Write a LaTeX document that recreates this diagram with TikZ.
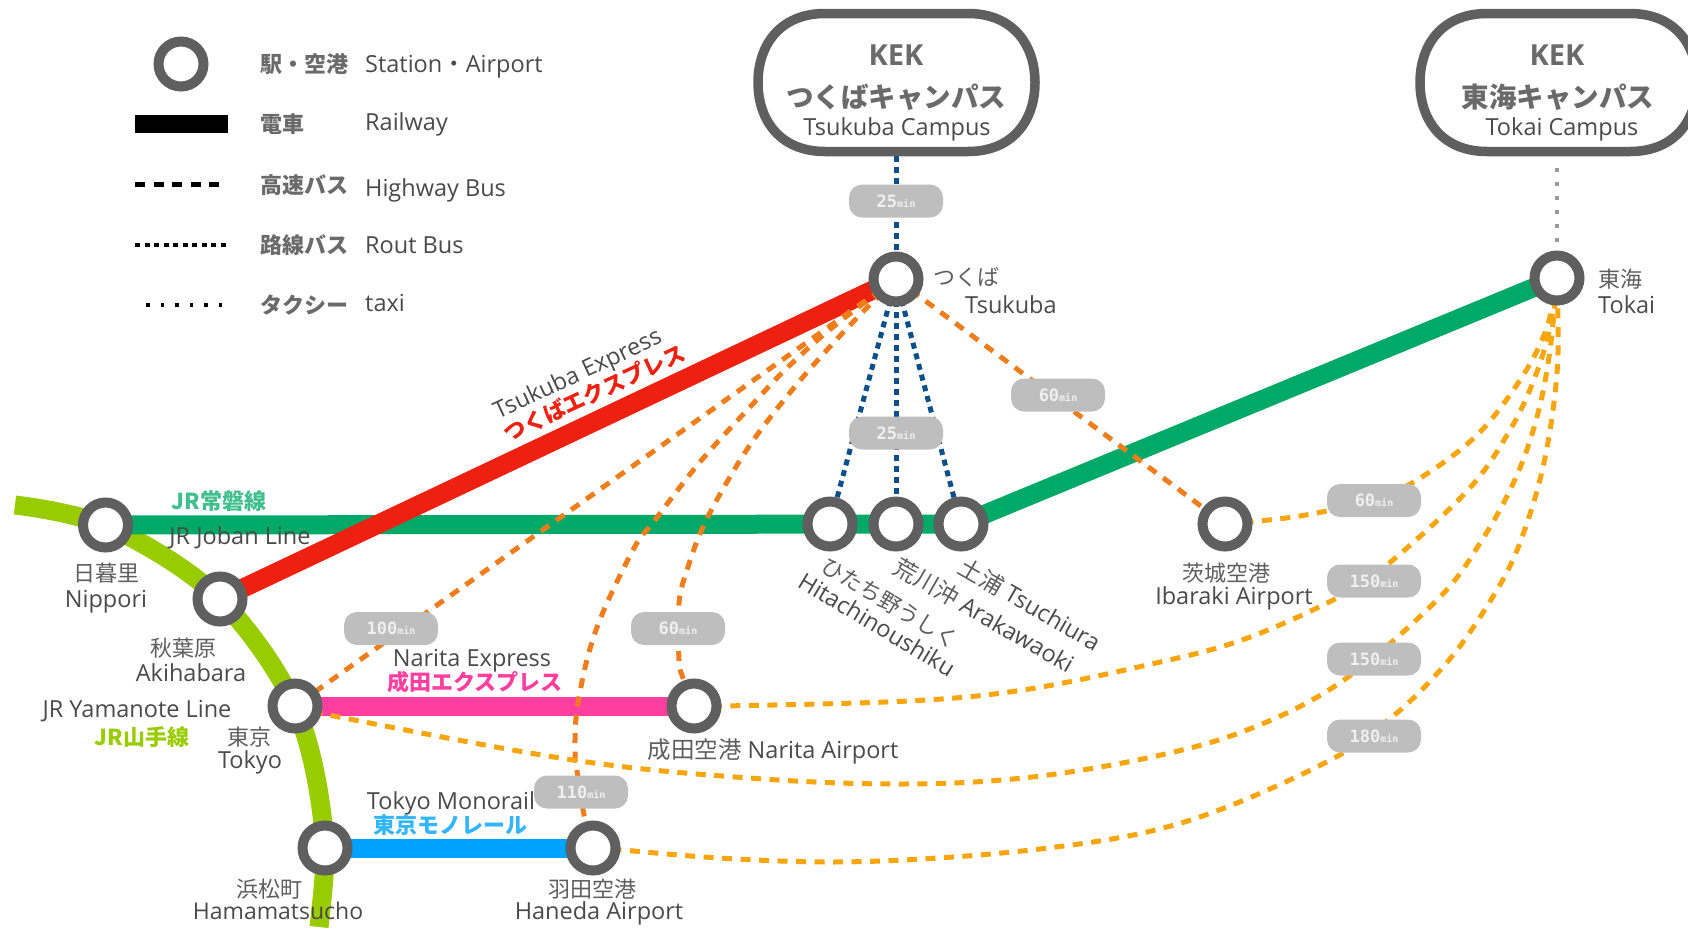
\documentclass[tikz,border=0pt]{standalone}
\usepackage{fontspec}
\setmainfont{Open Sans}
\newfontfamily\jp{Noto Sans CJK JP}
\newfontfamily\mn{DejaVu Sans Mono}
\usetikzlibrary{backgrounds}
\definecolor{ringgray}{HTML}{5F5F5F}
\definecolor{textgray}{HTML}{4A4A4A}
\definecolor{jagray}{HTML}{5E5E5E}
\definecolor{boldgray}{HTML}{6A6A6A}
\definecolor{pillgray}{HTML}{BEBEBE}
\definecolor{joban}{HTML}{00A968}
\definecolor{yama}{HTML}{99CC00}
\definecolor{tx}{HTML}{EE2010}
\definecolor{nex}{HTML}{FF3FA0}
\definecolor{mono}{HTML}{00A2FF}
\definecolor{routeblue}{HTML}{0B4F8A}
\definecolor{orangeA}{HTML}{EE7D1C}
\definecolor{orangeB}{HTML}{F8A50E}
\definecolor{taxigray}{HTML}{9A9A9A}
\newcommand{\pilltxt}[1]{{\mn\bfseries\fontsize{17}{17}\selectfont #1\fontsize{10}{10}\selectfont min}}
\newcommand{\sz}[1]{\fontsize{#1}{#1}\selectfont}
\tikzset{
  x=1pt,y=-1pt,
  station/.style={circle,draw=ringgray,fill=white,line width=10pt,minimum size=45pt,inner sep=0pt},
  pill/.style={rectangle,rounded corners=13pt,fill=pillgray,minimum width=94pt,minimum height=33pt,inner sep=0pt,text=white!94!black},
  en/.style={inner sep=0pt,text=textgray,font=\sz{23.5},yshift=-2pt},
  ja/.style={inner sep=0pt,text=jagray,font=\jp\sz{22}},
  jb/.style={inner sep=0pt,text=boldgray,font=\jp\bfseries\sz{22}},
  rail/.style={line width=19pt},
  bluebus/.style={draw=routeblue,line width=5pt,dash pattern=on 6pt off 5pt},
  orbus/.style={draw=orangeA,line width=5pt,dash pattern=on 10pt off 8.5pt},
  yebus/.style={draw=orangeB,line width=5pt,dash pattern=on 10pt off 8.5pt},
  campus/.style={draw=ringgray,line width=9.5pt,fill=white},
}
\begin{document}
\begin{tikzpicture}
\path[use as bounding box] (0,0) rectangle (1688,927);
\clip (0,0) rectangle (1688,927);
% stations
\node[station] (tsukuba) at (896,279) {};
\node[station] (tokai) at (1557,278) {};
\node[station] (hitachi) at (830,524) {};
\node[station] (arakawa) at (896,524) {};
\node[station] (tsuchiura) at (961,524) {};
\node[station] (ibaraki) at (1225,524) {};
\node[station] (nippori) at (105.5,525) {};
\node[station] (akiba) at (220,599) {};
\node[station] (tokyo) at (295,706) {};
\node[station] (narita) at (694,706) {};
\node[station] (hama) at (325,848) {};
\node[station] (haneda) at (593,848) {};
\coordinate (yamaS) at (15,505);
\coordinate (yamaE) at (319,927);
\coordinate (tsuTop) at (896,156);
\coordinate (tokTop) at (1557,168);
\coordinate (tokBot) at (1557,245);
% campuses
\draw[campus] (825,13.5) -- (968,13.5) .. controls (1013,13.5) and (1035,45) .. (1035,82.5) .. controls (1035,120) and (1013,151.5) .. (968,151.5) -- (825,151.5) .. controls (780,151.5) and (758,120) .. (758,82.5) .. controls (758,45) and (780,13.5) .. (825,13.5) -- cycle;
\draw[campus] (1487,13.5) -- (1630,13.5) .. controls (1675,13.5) and (1697,45) .. (1697,82.5) .. controls (1697,120) and (1675,151.5) .. (1630,151.5) -- (1487,151.5) .. controls (1442,151.5) and (1420,120) .. (1420,82.5) .. controls (1420,45) and (1442,13.5) .. (1487,13.5) -- cycle;
\node[inner sep=0pt,text=boldgray,font=\bfseries\sz{29}] (kek1) at (896,55) {KEK};
\node[jb,font=\jp\bfseries\sz{27.5}] (kekj1) at (896,97) {つくばキャンパス};
\node[en] (keke1) at (897,127) {Tsukuba Campus};
\node[inner sep=0pt,text=boldgray,font=\bfseries\sz{29}] (kek2) at (1557,55) {KEK};
\node[jb,font=\jp\bfseries\sz{27.5}] (kekj2) at (1558,97) {東海キャンパス};
\node[en] (keke2) at (1562,127) {Tokai Campus};
% lines
\begin{scope}[on background layer]
\draw[yama,rail] (yamaS) .. controls (40,508) and (75,514) .. (nippori.center) .. controls (145,543) and (190,570) .. (akiba.center) .. controls (250,630) and (278,670) .. (tokyo.center) .. controls (312,745) and (322,800) .. (hama.center) .. controls (325,875) and (322,900) .. (yamaE);
\draw[joban,rail] (nippori.center) -- (tsuchiura.center) -- (tokai.center);
\draw[tx,rail] (akiba.center) -- (tsukuba.center);
\draw[nex,rail] (tokyo.center) -- (narita.center);
\draw[mono,rail] (hama.center) -- (haneda.center);
\draw[bluebus] (tsuTop) -- (tsukuba.center);
\draw[bluebus] (tsukuba.center) -- (hitachi.center);
\draw[bluebus] (tsukuba.center) -- (arakawa.center);
\draw[bluebus] (tsukuba.center) -- (tsuchiura.center);
\draw[draw=taxigray,line width=3.5pt,dash pattern=on 4pt off 10pt] (tokTop) -- (tokBot);
\draw[orbus] (tsukuba.center) -- (ibaraki.center);
\draw[orbus] (tsukuba.center) -- (tokyo.center);
\draw[orbus] plot[smooth,tension=.6] coordinates {(tsukuba.center) (833,327) (787,368) (750,407) (700,462) (655,520) (633,550) (596,630) (578,703) (575,753) (578,777) (585,820) (haneda.center)};
\draw[orbus] plot[smooth,tension=.6] coordinates {(tsukuba.center) (853,322) (803,377) (757,435) (727,482) (703,527) (688,567) (679,603) (679,660) (683,678) (narita.center)};
\draw[yebus] plot[smooth,tension=.6] coordinates {(ibaraki.center) (1300,516) (1370,500) (1417,480) (1477,435) (1522,377) (1547,327) (tokai.center)};
\draw[yebus] plot[smooth,tension=.6] coordinates {(narita.center) (724,706) (908,701) (1023,690) (1147,665) (1242,640) (1337,598) (1387,565) (1468,490) (1510,430) (1535,377) (1550,327) (tokai.center)};
\draw[yebus] plot[smooth,tension=.6] coordinates {(tokyo.center) (339,717) (573,760) (749,778) (898,784) (1023,778) (1147,758) (1247,730) (1341,682) (1437,600) (1482,540) (1517,475) (1538,413) (1550,350) (tokai.center)};
\draw[yebus] plot[smooth,tension=.6] coordinates {(haneda.center) (622,850) (719,858) (829,862) (938,858) (1048,848) (1147,832) (1232,805) (1336,757) (1392,717) (1433,678) (1468,635) (1507,572) (1528,520) (1543,467) (1553,410) (1558,353) (tokai.center)};
\end{scope}
% pills
\node[pill] (p1) at (896,201) {\pilltxt{25}};
\node[pill] (p2) at (896,433) {\pilltxt{25}};
\node[pill] (p3) at (1058,395) {\pilltxt{60}};
\node[pill] (p4) at (391,628.5) {\pilltxt{100}};
\node[pill] (p5) at (678,628.5) {\pilltxt{60}};
\node[pill] (p6) at (581,792) {\pilltxt{110}};
\node[pill] (p7) at (1374,500.5) {\pilltxt{60}};
\node[pill] (p8) at (1374,581) {\pilltxt{150}};
\node[pill] (p9) at (1374,659) {\pilltxt{150}};
\node[pill] (p10) at (1374,736) {\pilltxt{180}};
% legend
\node[station] (legS) at (181,64) {};
\node[fill=black,minimum width=93pt,minimum height=18pt,inner sep=0pt] (legR) at (181.5,124) {};
\coordinate (legH1) at (135,184); \coordinate (legH2) at (222,184);
\coordinate (legB1) at (135,245); \coordinate (legB2) at (226,245);
\coordinate (legT1) at (146,305); \coordinate (legT2) at (224,305);
\draw[black,line width=5pt,dash pattern=on 10pt off 8.5pt] (legH1) -- (legH2);
\draw[black,line width=4pt,dash pattern=on 5pt off 4.5pt] (legB1) -- (legB2);
\draw[black,line width=4pt,dash pattern=on 3.5pt off 11pt] (legT1) -- (legT2);
\node[jb,anchor=west] (l1j) at (260,64) {駅・空港};
\node[jb,anchor=west] (l2j) at (260,124) {電車};
\node[jb,anchor=west] (l3j) at (260,185) {高速バス};
\node[jb,anchor=west] (l4j) at (260,245) {路線バス};
\node[jb,anchor=west] (l5j) at (260,305) {タクシー};
\node[en,anchor=west] (l1e) at (365,65) {Station{\jp・}Airport};
\node[en,anchor=west] (l2e) at (365,122) {Railway};
\node[en,anchor=west] (l3e) at (365,188) {Highway Bus};
\node[en,anchor=west] (l4e) at (365,243) {Rout Bus};
\node[en,anchor=west] (l5e) at (365,301) {taxi};
% station labels
\node[ja,anchor=west] (n1j) at (933,277) {つくば};
\node[en,anchor=west] (n1e) at (965,303) {Tsukuba};
\node[ja,anchor=west] (n2j) at (1598,279) {東海};
\node[en,anchor=west] (n2e) at (1598,303) {Tokai};
\node[ja] (n3j) at (106,573) {日暮里};
\node[en] (n3e) at (106,600) {Nippori};
\node[ja] (n4j) at (183,648) {秋葉原};
\node[en] (n4e) at (191,671) {Akihabara};
\node[en] (n5) at (137,709) {JR Yamanote Line};
\node[jb,text=yama] (n5j) at (142,737) {JR山手線};
\node[ja] (n6j) at (249,737) {東京};
\node[en] (n6e) at (250,760) {Tokyo};
\node[ja] (n7j) at (269,889) {浜松町};
\node[en,font=\sz{23}] (n7e) at (278,909) {Hamamatsucho};
\node[ja] (n8j) at (592,889) {羽田空港};
\node[en] (n8e) at (599,911) {Haneda Airport};
\node[jb,text=joban!75!white] (n9j) at (219,501) {JR常磐線};
\node[en] (n9e) at (240,536) {JR Joban Line};
\node[en] (n10e) at (472,659) {Narita Express};
\node[jb,text=nex] (n10j) at (475,682) {成田エクスプレス};
\node[en] (n11) at (773,749) {{\jp\color{jagray} 成田空港} Narita Airport};
\node[en] (n12e) at (451,801) {Tokyo Monorail};
\node[jb,text=mono!80!white] (n12j) at (450,825) {東京モノレール};
\node[en,rotate=25,yshift=2pt] (n13e) at (579,375) {Tsukuba Express};
\node[jb,text=tx,rotate=25] (n13j) at (594,393) {つくばエクスプレス};
\node[ja] (n14j) at (1226,573) {茨城空港};
\node[en] (n14e) at (1234,596) {Ibaraki Airport};
\node[en,rotate=-30,yshift=2pt] (n15) at (1029,604) {{\jp\color{jagray} 土浦} Tsuchiura};
\node[en,rotate=-30,yshift=2pt] (n16) at (983,615) {{\jp\color{jagray} 荒川沖} Arakawaoki};
\node[ja,rotate=-31] (n17j) at (890,603) {ひたち野うしく};
\node[en,rotate=-31,yshift=2pt] (n17e) at (876,624) {Hitachinoushiku};
\end{tikzpicture}
\end{document}
